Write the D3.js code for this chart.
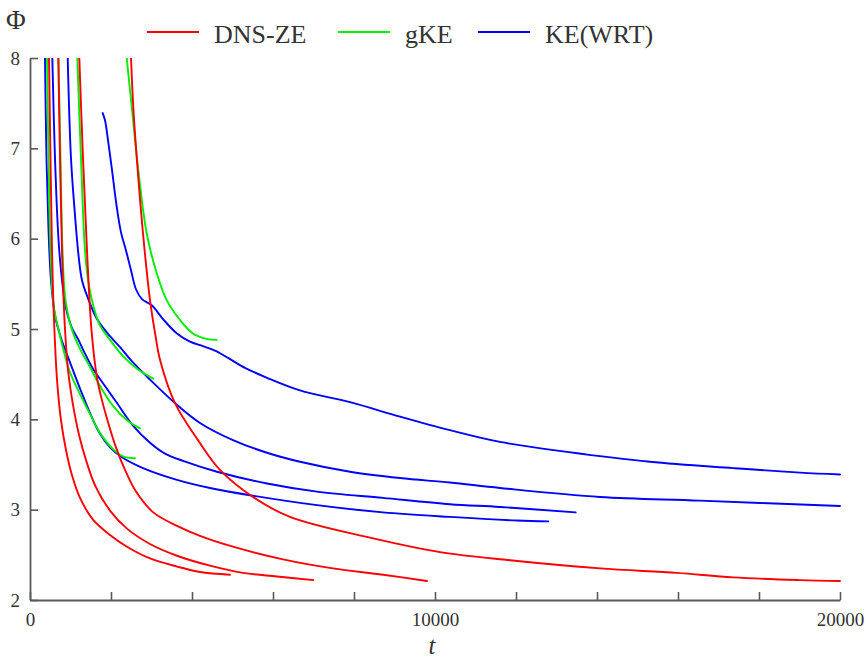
<!DOCTYPE html>
<html>
<head>
<meta charset="utf-8">
<script src="https://cdn.jsdelivr.net/npm/d3@7"></script>
<style>
  html, body { margin: 0; padding: 0; background: #fff; }
  svg { display: block; }
  svg text { font-family: "Liberation Serif", "Times New Roman", "DejaVu Serif", serif !important; }
</style>
</head>
<body>
<svg id="chart" width="866" height="659"></svg>
<script>
// ---------------- data (t, Φ) ----------------
const legendLabels = ["DNS-ZE", "gKE", "KE(WRT)"];
const legendColors = ["#ff0000", "#00ee00", "#0000ff"];
const xTickValues = [0, 2000, 4000, 6000, 8000, 10000, 12000, 14000, 16000, 18000, 20000];
const xTickLabels = ["0", "", "", "", "", "10000", "", "", "", "", "20000"];
const yTickValues = [2, 3, 4, 5, 6, 7, 8];

// DNS-ZE (red)
const dns1 = [[469,8.0],[506,6.89],[543,5.87],[593,5.10],[667,4.44],[765,3.99],[889,3.66],[1037,3.38],[1235,3.13],[1555,2.89],[1975,2.72],[2395,2.59],[2963,2.46],[3629,2.37],[4197,2.31],[4938,2.28]];
const dns2 = [[699,8.0],[741,6.89],[790,5.87],[852,5.10],[938,4.55],[1062,4.16],[1210,3.83],[1383,3.55],[1605,3.27],[1975,2.99],[2395,2.79],[2963,2.62],[3629,2.49],[4444,2.38],[5259,2.30],[6098,2.26],[6995,2.22]];
const dns3 = [[1217,8.0],[1309,6.89],[1407,5.87],[1518,4.99],[1654,4.46],[1778,4.21],[1926,3.97],[2123,3.69],[2346,3.44],[2617,3.20],[3044,2.97],[3629,2.82],[4197,2.71],[5012,2.59],[6247,2.45],[7481,2.35],[8716,2.28],[9802,2.21]];
const dns4 = [[2494,8.0],[2555,7.42],[2654,6.79],[2790,6.06],[2963,5.32],[3086,4.96],[3210,4.66],[3580,4.18],[4148,3.77],[4691,3.44],[5506,3.14],[6419,2.92],[8395,2.69],[10123,2.53],[11851,2.44],[14074,2.35],[15975,2.30],[17357,2.25],[19011,2.22],[20000,2.21]];

// gKE (green)
const gke1 = [[420,8.0],[457,6.89],[506,5.87],[580,5.27],[691,5.02],[815,4.79],[988,4.52],[1235,4.28],[1481,4.06],[1728,3.85],[2049,3.67],[2296,3.59],[2593,3.57]];
const gke2 = [[704,8.0],[753,6.89],[802,5.87],[877,5.32],[1037,4.99],[1235,4.78],[1481,4.58],[1728,4.37],[2049,4.15],[2395,3.99],[2716,3.90]];
const gke3 = [[1168,8.0],[1259,6.89],[1358,5.87],[1444,5.51],[1568,5.25],[1728,5.04],[1975,4.88],[2296,4.70],[2642,4.56],[3044,4.45]];
const gke4 = [[2388,8.0],[2494,7.54],[2679,6.74],[2881,6.06],[3128,5.62],[3375,5.32],[3704,5.10],[4025,4.95],[4363,4.89],[4610,4.88]];

// KE(WRT) (blue)
const ke1 = [[370,8.0],[407,6.89],[457,6.10],[518,5.54],[617,5.15],[765,4.90],[988,4.63],[1235,4.34],[1481,4.07],[1728,3.84],[1975,3.69],[2271,3.58],[2790,3.46],[3629,3.33],[4444,3.24],[5432,3.16],[7086,3.05],[8716,2.97],[10370,2.92],[12024,2.88],[12797,2.87]];
const ke2 = [[551,8.0],[617,6.89],[704,5.99],[790,5.54],[889,5.23],[1037,5.01],[1185,4.89],[1333,4.75],[1555,4.56],[1802,4.40],[2148,4.18],[2543,3.93],[2963,3.74],[3333,3.62],[3778,3.54],[4617,3.42],[5852,3.29],[7086,3.20],[8716,3.13],[10370,3.06],[11605,3.03],[13473,2.97]];
const ke3 = [[931,8.0],[1012,6.89],[1111,6.26],[1197,5.82],[1284,5.54],[1432,5.34],[1654,5.11],[1975,4.92],[2222,4.80],[2543,4.63],[2963,4.44],[3580,4.18],[4197,3.96],[5012,3.77],[5852,3.63],[6667,3.53],[7901,3.42],[9136,3.35],[10370,3.30],[11605,3.24],[14074,3.14],[16543,3.10],[20000,3.04]];
const ke4 = [[1795,7.39],[1852,7.31],[1926,7.09],[2025,6.76],[2136,6.37],[2247,6.07],[2370,5.87],[2494,5.65],[2617,5.44],[2765,5.33],[3012,5.26],[3284,5.11],[3629,4.95],[3950,4.86],[4271,4.81],[4568,4.76],[4889,4.68],[5308,4.57],[5852,4.46],[6667,4.32],[7901,4.19],[9136,4.03],[10370,3.88],[11605,3.75],[13259,3.64],[15308,3.53],[17357,3.46],[19011,3.41],[20000,3.39]];

const keSeries = [ke1, ke2, ke3, ke4];
const gkeSeries = [gke1, gke2, gke3, gke4];
const dnsSeries = [dns1, dns2, dns3, dns4];

// ---------------- chart ----------------
const FONT = "Liberation Serif, Times New Roman, DejaVu Serif, serif";
const svg = d3.select("#chart");
const x = d3.scaleLinear().domain([0, 20000]).range([30, 840]);
const y = d3.scaleLinear().domain([2, 8]).range([600, 58]);

svg.append("defs").append("clipPath").attr("id", "plotClip")
  .append("rect").attr("x", 30).attr("y", 58).attr("width", 812).attr("height", 542);

const line = d3.line()
  .x(d => x(d[0])).y(d => y(d[1]))
  .curve(d3.curveCatmullRom.alpha(0.5));

const plot = svg.append("g").attr("clip-path", "url(#plotClip)");
function drawGroup(series, color) {
  plot.append("g").selectAll("path").data(series).join("path")
    .attr("d", line)
    .attr("fill", "none")
    .attr("stroke", color)
    .attr("stroke-width", 1.9)
    .attr("stroke-linejoin", "round")
    .attr("stroke-linecap", "round");
}
drawGroup(keSeries, legendColors[2]);
drawGroup(gkeSeries, legendColors[1]);
drawGroup(dnsSeries, legendColors[0]);

// axes
const axisColor = "#5a5a5a";
const textColor = "#333";

const yAxis = svg.append("g").attr("transform", "translate(30,0)")
  .call(d3.axisLeft(y).tickValues(yTickValues).tickFormat(d3.format("d"))
    .tickSizeInner(-8).tickSizeOuter(0).tickPadding(10));
const xAxis = svg.append("g").attr("transform", "translate(0,600)")
  .call(d3.axisBottom(x).tickValues(xTickValues)
    .tickFormat((d, i) => xTickLabels[i])
    .tickSizeInner(-8).tickSizeOuter(0).tickPadding(13));

[xAxis, yAxis].forEach(a => {
  a.attr("font-family", FONT).attr("font-size", 19);
  a.select(".domain").attr("stroke", axisColor).attr("stroke-width", 1.8);
  a.selectAll(".tick line").attr("stroke", axisColor).attr("stroke-width", 1.6);
  a.selectAll(".tick text").attr("fill", textColor)
    .attr("font-family", FONT).attr("font-size", 19);
});

// axis titles
svg.append("text").attr("x", 6).attr("y", 29)
  .attr("font-family", FONT).attr("font-size", 27)
  .attr("fill", textColor).text("Φ");
svg.append("text").attr("x", 432).attr("y", 653.5).attr("text-anchor", "middle")
  .attr("font-family", FONT).attr("font-size", 25).attr("font-style", "italic")
  .attr("fill", textColor).text("t");

// legend
const legendX = [147, 338, 478];
const legend = svg.append("g");
legendLabels.forEach((lab, i) => {
  legend.append("line")
    .attr("x1", legendX[i]).attr("x2", legendX[i] + 52)
    .attr("y1", 32).attr("y2", 32)
    .attr("stroke", legendColors[i]).attr("stroke-width", 1.9);
  legend.append("text")
    .attr("x", legendX[i] + 67).attr("y", 43)
    .attr("font-family", FONT).attr("font-size", 26)
    .attr("fill", textColor).text(lab);
});
</script>
</body>
</html>
